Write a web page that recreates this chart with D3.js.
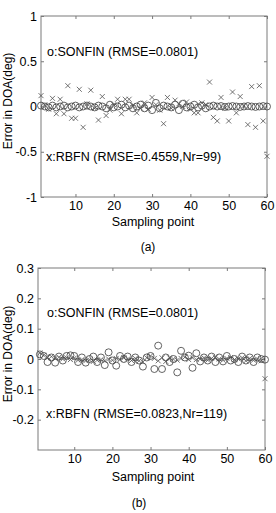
<!DOCTYPE html>
<html>
<head>
<meta charset="utf-8">
<script src="https://cdn.jsdelivr.net/npm/d3@7"></script>
<style>
  html, body { margin: 0; padding: 0; background: #fff; }
  svg { display: block; font-family: "Liberation Sans", Arial, sans-serif; }
  .tick text { fill: #000; }
</style>
</head>
<body>
<svg id="chart" width="276" height="513"></svg>
<script>
// sampling points 1..60
const samples = d3.range(1, 61);

// panel (a)
const sonfinA = [0.01, 0.0, -0.01, 0.01, -0.01, 0.0, 0.01, -0.01, 0.0, 0.01,
  -0.01, 0.0, 0.01, 0.0, -0.01, 0.01, 0.0, -0.02, 0.02, -0.01,
  0.0, 0.02, -0.01, 0.01, -0.02, 0.0, 0.02, -0.02, 0.01, -0.04,
  0.04, -0.02, 0.01, 0.0, -0.01, 0.02, -0.04, 0.03, -0.01, 0.0,
  0.02, -0.01, 0.01, -0.02, 0.0, 0.01, 0.0, 0.005, -0.005, 0.0,
  0.005, 0.0, -0.005, 0.0, 0.005, 0.0, -0.005, 0.0, 0.005, 0.0];
const rbfnA = [0.12, 0.02, -0.03, 0.09, -0.08, 0.08, -0.08, 0.23, -0.13, -0.13,
  0.19, -0.23, 0.03, 0.18, -0.02, -0.15, 0.11, -0.10, -0.04, 0.02,
  0.08, -0.08, 0.08, 0.08, 0.01, -0.07, -0.02, 0.04, -0.03, 0.10,
  0.02, -0.04, -0.19, 0.10, -0.02, 0.07, 0.03, 0.0, 0.05, -0.03,
  -0.07, -0.07, 0.04, 0.02, 0.27, -0.12, -0.16, 0.10, -0.02, -0.16,
  0.16, -0.07, 0.11, 0.01, -0.20, 0.22, -0.23, 0.23, -0.16, -0.55];

// panel (b)
const sonfinB = [0.015, 0.01, -0.01, 0.005, -0.012, 0.008, -0.005, 0.01, 0.012, 0.01,
  -0.01, 0.005, -0.012, 0.0, 0.008, -0.01, 0.005, -0.02, 0.022, -0.005,
  -0.022, 0.01, 0.0, 0.008, -0.01, 0.005, -0.005, -0.025, 0.005, 0.01,
  -0.033, 0.044, -0.033, 0.005, -0.01, 0.0, -0.044, 0.027, 0.005, 0.011,
  -0.029, 0.019, -0.008, 0.005, -0.005, 0.008, -0.01, 0.005, -0.008, 0.01,
  -0.005, 0.0, -0.01, 0.008, -0.005, 0.005, -0.01, 0.005, 0.0, -0.002];
const rbfnB = [0.02, 0.012, 0.005, 0.008, 0.002, 0.006, 0.0, 0.004, -0.002, 0.003,
  -0.004, -0.002, -0.006, -0.003, -0.008, -0.004, -0.002, -0.006, 0.0, -0.004,
  0.002, -0.002, 0.004, 0.0, -0.005, 0.002, -0.006, -0.01, 0.004, 0.01,
  0.002, -0.006, 0.004, -0.008, 0.004, 0.0, -0.004, 0.002, 0.006, -0.002,
  0.004, -0.002, 0.0, 0.004, -0.004, 0.002, 0.006, 0.0, -0.004, 0.002,
  0.005, -0.002, 0.0, 0.004, -0.006, 0.002, -0.004, 0.0, -0.006, -0.065];

const xTicks = [10, 20, 30, 40, 50, 60];
const yTicksA = [-1, -0.5, 0, 0.5, 1];
const yTicksB = [-0.2, -0.1, 0, 0.1, 0.2, 0.3];

const panels = [
  {
    sonfin: sonfinA, rbfn: rbfnA, yTicks: yTicksA,
    xDomain: [1, 60], yDomain: [-1, 1],
    left: 41, right: 267, top: 16, bottom: 197,
    sonfinLabel: 'o:SONFIN (RMSE=0.0801)', sonfinY: 56,
    rbfnLabel: 'x:RBFN (RMSE=0.4559,Nr=99)', rbfnY: 161,
    xLabelY: 226, tag: '(a)', tagX: 148, tagY: 251, yLabelY: 101
  },
  {
    sonfin: sonfinB, rbfn: rbfnB, yTicks: yTicksB,
    xDomain: [0.5, 60], yDomain: [-0.3, 0.3],
    left: 38, right: 265, top: 268, bottom: 450,
    sonfinLabel: 'o:SONFIN (RMSE=0.0801)', sonfinY: 317,
    rbfnLabel: 'x:RBFN (RMSE=0.0823,Nr=119)', rbfnY: 418,
    xLabelY: 481, tag: '(b)', tagX: 139, tagY: 507, yLabelY: 354
  }
];

const svg = d3.select('#chart');
const markColor = '#3c3c3c';
const axisColor = '#7a7a7a';
const fmt = d => String(d); // plain hyphen minus, as in the figure

function drawPanel(p) {
  const g = svg.append('g').attr('class', 'panel');
  const x = d3.scaleLinear().domain(p.xDomain).range([p.left, p.right]);
  const y = d3.scaleLinear().domain(p.yDomain).range([p.bottom, p.top]);

  // box
  g.append('rect')
    .attr('x', p.left).attr('y', p.top)
    .attr('width', p.right - p.left).attr('height', p.bottom - p.top)
    .attr('fill', 'none').attr('stroke', axisColor).attr('stroke-width', 1);

  // inward ticks on all four sides
  const axes = [
    { axis: d3.axisBottom(x).tickValues(xTicks).tickSize(-3).tickPadding(4).tickFormat(fmt), t: `translate(0,${p.bottom})`, labels: true },
    { axis: d3.axisTop(x).tickValues(xTicks).tickSize(-3), t: `translate(0,${p.top})`, labels: false },
    { axis: d3.axisLeft(y).tickValues(p.yTicks).tickSize(-3).tickPadding(4).tickFormat(fmt), t: `translate(${p.left},0)`, labels: true },
    { axis: d3.axisRight(y).tickValues(p.yTicks).tickSize(-3), t: `translate(${p.right},0)`, labels: false }
  ];
  axes.forEach(a => {
    const ag = g.append('g').attr('transform', a.t).call(a.axis);
    ag.select('.domain').remove();
    ag.selectAll('line').attr('stroke', axisColor);
    if (a.labels) {
      ag.selectAll('text').attr('font-size', 12.5).attr('font-family', '"Liberation Sans", Arial, sans-serif');
    } else {
      ag.selectAll('text').remove();
    }
  });

  // SONFIN circles
  g.append('g').selectAll('circle')
    .data(samples)
    .join('circle')
    .attr('cx', d => x(d))
    .attr('cy', (d, i) => y(p.sonfin[i]))
    .attr('r', 3.5)
    .attr('fill', 'none')
    .attr('stroke', markColor)
    .attr('stroke-width', 0.8);

  // RBFN crosses
  const s = 2.5;
  g.append('g').selectAll('path')
    .data(samples)
    .join('path')
    .attr('transform', (d, i) => `translate(${x(d)},${y(p.rbfn[i])})`)
    .attr('d', `M${-s},${-s}L${s},${s}M${-s},${s}L${s},${-s}`)
    .attr('stroke', '#505050')
    .attr('stroke-width', 0.8)
    .attr('fill', 'none');

  // annotations
  g.append('text').attr('x', 47).attr('y', p.sonfinY)
    .attr('font-size', 12.5).attr('fill', '#000').text(p.sonfinLabel);
  g.append('text').attr('x', 46).attr('y', p.rbfnY)
    .attr('font-size', 12.5).attr('fill', '#000').text(p.rbfnLabel);

  // axis labels
  g.append('text').attr('x', 153).attr('y', p.xLabelY)
    .attr('text-anchor', 'middle').attr('font-size', 12.5).attr('fill', '#000')
    .text('Sampling point');
  g.append('text')
    .attr('transform', `translate(12,${p.yLabelY}) rotate(-90)`)
    .attr('text-anchor', 'middle').attr('font-size', 12).attr('fill', '#000')
    .text('Error in DOA(deg)');
  g.append('text').attr('x', p.tagX).attr('y', p.tagY)
    .attr('text-anchor', 'middle').attr('font-size', 12).attr('fill', '#000')
    .text(p.tag);
}

panels.forEach(drawPanel);
</script>
</body>
</html>
